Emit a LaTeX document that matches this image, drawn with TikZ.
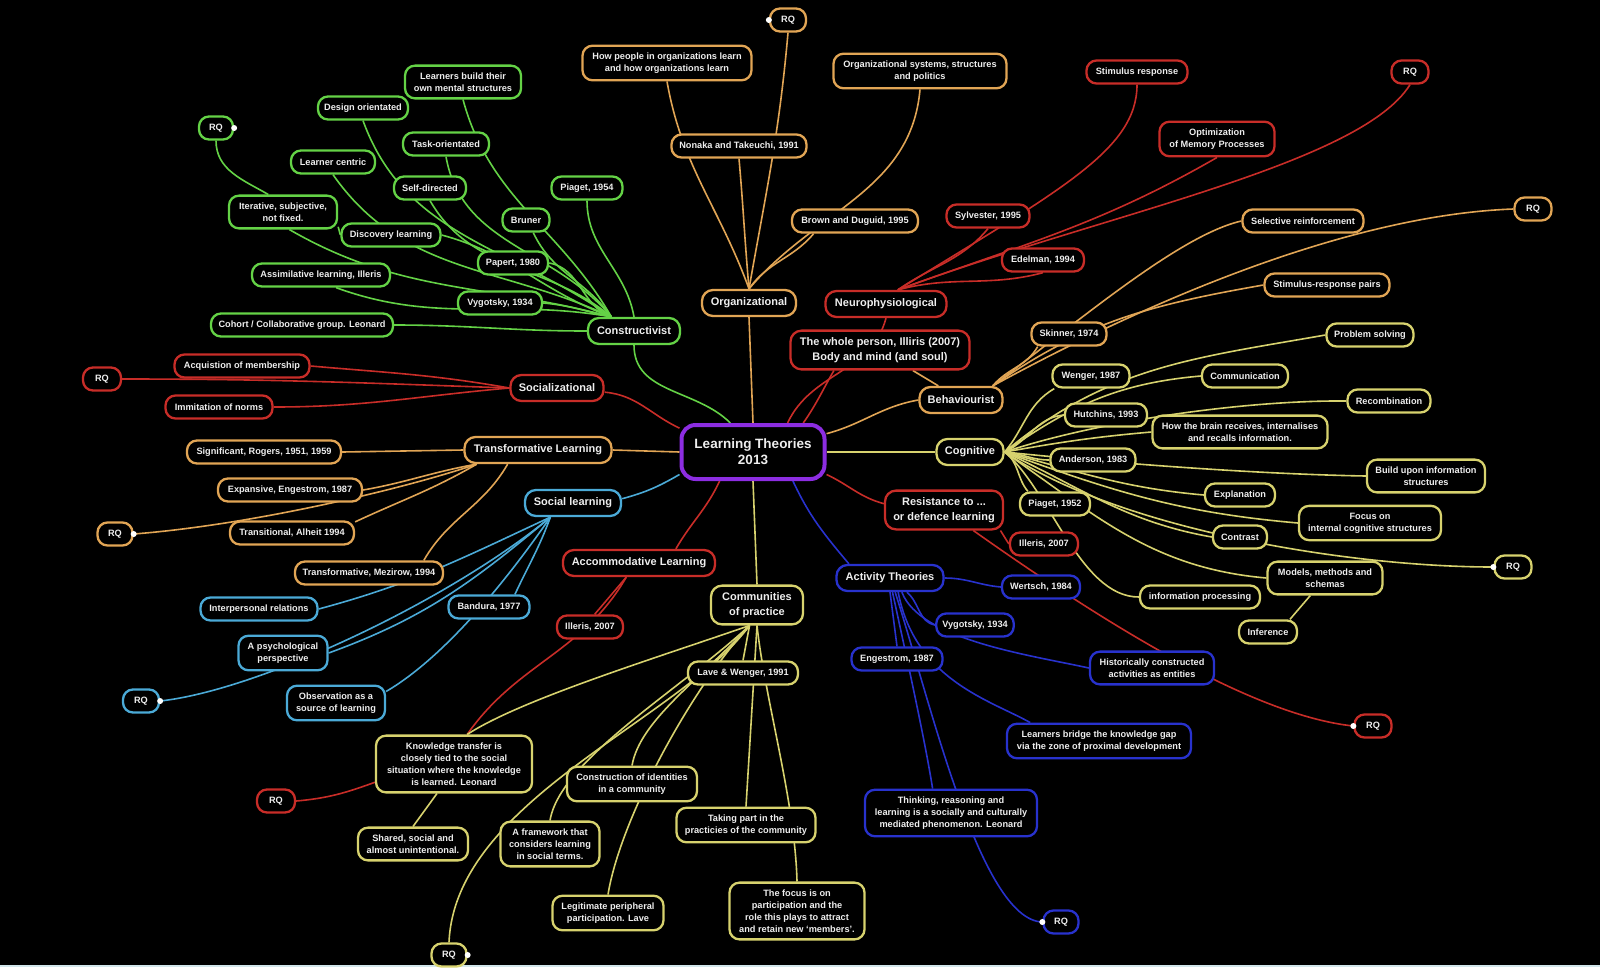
\documentclass[tikz,border=0pt]{standalone}
\usepackage{fontspec}
\setmainfont{Liberation Sans}
\definecolor{cG}{RGB}{100,210,70}
\definecolor{cO}{RGB}{225,165,85}
\definecolor{cR}{RGB}{200,45,40}
\definecolor{cB}{RGB}{75,170,215}
\definecolor{cD}{RGB}{40,50,205}
\definecolor{cY}{RGB}{215,210,110}
\definecolor{cP}{RGB}{140,45,225}
\definecolor{txt}{RGB}{238,238,238}
\definecolor{strip}{RGB}{210,230,235}
\pgfdeclarelayer{back}
\pgfdeclarelayer{lines}
\pgfsetlayers{back,lines,main}
\begin{document}
\begin{tikzpicture}[x=1pt,y=1pt,
  box/.style={draw, fill=black, line width=2.3pt, rounded corners=10pt, text=txt,
    font=\bfseries\fontsize{9.2}{12}\selectfont, align=center, inner xsep=6pt, inner ysep=7pt, minimum height=23pt},
  big/.style={box, font=\bfseries\fontsize{11}{14.5}\selectfont, minimum height=26pt, rounded corners=11pt},
  gb/.style={draw=cG}, ob/.style={draw=cO}, rb/.style={draw=cR}, bb/.style={draw=cB},
  db/.style={draw=cD}, yb/.style={draw=cY},
  wire/.style={line width=1.6pt},
  lG/.style={wire, draw=cG}, lO/.style={wire, draw=cO}, lR/.style={wire, draw=cR},
  lB/.style={wire, draw=cB}, lD/.style={wire, draw=cD}, lY/.style={wire, draw=cY},
  dot/.style={fill=white}
]
\useasboundingbox (0,0) rectangle (1600,-967);
\begin{pgfonlayer}{back}
\fill[black] (0,0) rectangle (1600,-967);
\fill[strip] (0,-965) rectangle (1600,-967);
\end{pgfonlayer}

% centre
\node[draw=cP, fill=black, line width=4pt, rounded corners=14pt, text=txt,
  font=\bfseries\fontsize{13.5}{16}\selectfont, align=center,
  minimum width=143pt, minimum height=54pt] (ctr) at (753,-452) {Learning Theories\\2013};

% green
\node[box,gb,minimum width=116pt] (gLB) at (463,-82) {Learners build their\\own mental structures};
\node[box,gb,minimum width=90pt] (gDO) at (363,-108) {Design orientated};
\node[box,gb,minimum width=34pt] (gRQ) at (216,-128) {RQ};
\node[box,gb,minimum width=86pt] (gTK) at (446,-144) {Task-orientated};
\node[box,gb,minimum width=84pt] (gLC) at (333,-162) {Learner centric};
\node[box,gb,minimum width=72pt] (gSD) at (430,-188) {Self-directed};
\node[box,gb,minimum width=71pt] (gPI) at (587,-188) {Piaget, 1954};
\node[box,gb,minimum width=108pt] (gIT) at (283,-212) {Iterative, subjective,\\not fixed.};
\node[box,gb,minimum width=47pt] (gBR) at (526,-220) {Bruner};
\node[box,gb,minimum width=99pt] (gDI) at (391,-235) {Discovery learning};
\node[box,gb,minimum width=70pt] (gPA) at (513,-263) {Papert, 1980};
\node[box,gb,minimum width=138pt] (gAS) at (321,-275) {Assimilative learning, Illeris};
\node[box,gb,minimum width=84pt] (gVY) at (500,-303) {Vygotsky, 1934};
\node[box,gb,minimum width=182pt] (gCO) at (302,-325) {Cohort / Collaborative group. Leonard};
\node[big,gb,minimum width=92pt] (gCON) at (634,-331) {Constructivist};

% orange
\node[box,ob,minimum width=36pt] (oRQT) at (788,-20) {RQ};
\node[box,ob,minimum width=169pt] (oHP) at (667,-63) {How people in organizations learn\\and how organizations learn};
\node[box,ob,minimum width=173pt] (oOS) at (920,-71) {Organizational systems, structures\\and politics};
\node[box,ob,minimum width=135pt] (oNT) at (739,-146) {Nonaka and Takeuchi, 1991};
\node[box,ob,minimum width=126pt] (oBD) at (855,-221) {Brown and Duguid, 1995};
\node[big,ob,minimum width=94pt] (oORG) at (749,-303) {Organizational};
\node[box,ob,minimum width=121pt] (oSR) at (1303,-221) {Selective reinforcement};
\node[box,ob,minimum width=37pt] (oRQR) at (1533,-209) {RQ};
\node[box,ob,minimum width=125pt] (oSRP) at (1327,-285) {Stimulus-response pairs};
\node[box,ob,minimum width=75pt] (oSK) at (1069,-334) {Skinner, 1974};
\node[big,ob,minimum width=83pt] (oBEH) at (961,-400) {Behaviourist};
\node[big,ob,minimum width=147pt] (oTL) at (538,-450) {Transformative Learning};
\node[box,ob,minimum width=154pt] (oSIG) at (264,-452) {Significant, Rogers, 1951, 1959};
\node[box,ob,minimum width=144pt] (oEXP) at (290,-490) {Expansive, Engestrom, 1987};
\node[box,ob,minimum width=35pt] (oRQL) at (115,-534) {RQ};
\node[box,ob,minimum width=124pt] (oTRA) at (292,-533) {Transitional, Alheit 1994};
\node[box,ob,minimum width=148pt] (oMEZ) at (369,-573) {Transformative, Mezirow, 1994};

% red
\node[box,rb,minimum width=101pt] (rSTI) at (1137,-72) {Stimulus response};
\node[box,rb,minimum width=37pt] (rRQT) at (1410,-72) {RQ};
\node[box,rb,minimum width=115pt] (rOPT) at (1217,-139) {Optimization\\of Memory Processes};
\node[box,rb,minimum width=83pt] (rSYL) at (988,-216) {Sylvester, 1995};
\node[box,rb,minimum width=82pt] (rEDE) at (1043,-260) {Edelman, 1994};
\node[big,rb,minimum width=121pt] (rNEU) at (886,-304) {Neurophysiological};
\node[big,rb,minimum width=179pt] (rWHO) at (880,-350) {The whole person, Illiris (2007)\\Body and mind (and soul)};
\node[box,rb,minimum width=135pt] (rACQ) at (242,-366) {Acquistion of membership};
\node[box,rb,minimum width=38pt] (rRQL) at (102,-379) {RQ};
\node[big,rb,minimum width=93pt] (rSOC) at (557,-388) {Socializational};
\node[box,rb,minimum width=107pt] (rIMM) at (219,-407) {Immitation of norms};
\node[big,rb,minimum width=118pt] (rRES) at (944,-510) {Resistance to ...\\or defence learning};
\node[box,rb,minimum width=68pt] (rIL2) at (1044,-544) {Illeris, 2007};
\node[big,rb,minimum width=152pt] (rACC) at (639,-563) {Accommodative Learning};
\node[box,rb,minimum width=66pt] (rIL1) at (590,-627) {Illeris, 2007};
\node[box,rb,minimum width=38pt] (rRQB) at (276,-801) {RQ};
\node[box,rb,minimum width=37pt] (rRQBR) at (1373,-726) {RQ};

% light blue
\node[big,bb,minimum width=96pt] (bSL) at (573,-503) {Social learning};
\node[box,bb,minimum width=117pt] (bIP) at (259,-609) {Interpersonal relations};
\node[box,bb,minimum width=81pt] (bBA) at (489,-607) {Bandura, 1977};
\node[box,bb,minimum width=89pt] (bPS) at (283,-653) {A psychological\\perspective};
\node[box,bb,minimum width=36pt] (bRQ) at (141,-701) {RQ};
\node[box,bb,minimum width=98pt] (bOB) at (336,-703) {Observation as a\\source of learning};

% dark blue
\node[big,db,minimum width=107pt] (dACT) at (890,-578) {Activity Theories};
\node[box,db,minimum width=78pt] (dWER) at (1041,-587) {Wertsch, 1984};
\node[box,db,minimum width=76pt] (dVY) at (975,-625) {Vygotsky, 1934};
\node[box,db,minimum width=91pt] (dENG) at (897,-659) {Engestrom, 1987};
\node[box,db,minimum width=124pt] (dHIS) at (1152,-668) {Historically constructed\\activities as entities};
\node[box,db,minimum width=184pt] (dLB) at (1099,-741) {Learners bridge the knowledge gap\\via the zone of proximal development};
\node[box,db,minimum width=172pt] (dTHI) at (951,-813) {Thinking, reasoning and\\learning is a socially and culturally\\mediated phenomenon. Leonard};
\node[box,db,minimum width=35pt] (dRQ) at (1061,-922) {RQ};

% yellow
\node[big,yb,minimum width=67pt] (yCOG) at (970,-452) {Cognitive};
\node[box,yb,minimum width=77pt] (yWEN) at (1091,-376) {Wenger, 1987};
\node[box,yb,minimum width=87pt] (yPS) at (1370,-335) {Problem solving};
\node[box,yb,minimum width=86pt] (yCOM) at (1245,-376) {Communication};
\node[box,yb,minimum width=83pt] (yREC) at (1389,-401) {Recombination};
\node[box,yb,minimum width=82pt] (yHUT) at (1106,-415) {Hutchins, 1993};
\node[box,yb,minimum width=175pt] (yHB) at (1240,-432) {How the brain receives, internalises\\and recalls information.};
\node[box,yb,minimum width=85pt] (yAND) at (1093,-460) {Anderson, 1983};
\node[box,yb,minimum width=118pt] (yBUI) at (1426,-476) {Build upon information\\structures};
\node[box,yb,minimum width=70pt] (yEXP) at (1240,-495) {Explanation};
\node[box,yb,minimum width=70pt] (yPIA) at (1055,-504) {Piaget, 1952};
\node[box,yb,minimum width=142pt] (yFOC) at (1370,-523) {Focus on\\internal cognitive structures};
\node[box,yb,minimum width=54pt] (yCON) at (1240,-537) {Contrast};
\node[box,yb,minimum width=37pt] (yRQ) at (1513,-567) {RQ};
\node[box,yb,minimum width=115pt] (yMOD) at (1325,-578) {Models, methods and\\schemas};
\node[box,yb,minimum width=58pt] (yINF) at (1268,-632) {Inference};
\node[box,yb,minimum width=120pt] (yIP) at (1200,-597) {information processing};
\node[big,yb,minimum width=92pt] (yCOP) at (757,-605) {Communities\\of practice};
\node[box,yb,minimum width=110pt] (yLW) at (743,-673) {Lave \& Wenger, 1991};
\node[box,yb,minimum width=156pt] (yKT) at (454,-764) {Knowledge transfer is\\closely tied to the social\\situation where the knowledge\\is learned. Leonard};
\node[box,yb,minimum width=130pt] (yCI) at (632,-784) {Construction of identities\\in a community};
\node[box,yb,minimum width=99pt] (yFW) at (550,-844) {A framework that\\considers learning\\in social terms.};
\node[box,yb,minimum width=139pt] (yTP) at (746,-825) {Taking part in the\\practicies of the community};
\node[box,yb,minimum width=110pt] (ySH) at (413,-844) {Shared, social and\\almost unintentional.};
\node[box,yb,minimum width=111pt] (yLPP) at (608,-913) {Legitimate peripheral\\participation. Lave};
\node[box,yb,minimum width=135pt] (yFOCB) at (797,-911) {The focus is on\\participation and the\\role this plays to attract\\and retain new ‘members’.};
\node[box,yb,minimum width=35pt] (yRQB) at (449,-955) {RQ};

% RQ dots
\fill[dot] (gRQ.east) circle (3pt);
\fill[dot] (oRQT.west) circle (3pt);
\fill[dot] (oRQL.east) circle (3pt);
\fill[dot] (bRQ.east) circle (3pt);
\fill[dot] (yRQB.east) circle (3pt);
\fill[dot] (dRQ.west) circle (3pt);
\fill[dot] (rRQBR.west) circle (3pt);
\fill[dot] (yRQ.west) circle (3pt);

\begin{pgfonlayer}{lines}
% constructivist
\draw[lG] (gCON.south) to[out=-90,in=135] (ctr.128);
\draw[lG] (gCON.148) to[out=120,in=-75] (gLB.south);
\draw[lG] (gCON.148) to[out=130,in=-80] (gTK.south);
\draw[lG] (gCON.148) to[out=140,in=-60] (gSD.south);
\draw[lG] (gCON.148) to[out=145,in=-70] (gDO.south);
\draw[lG] (gCON.148) to[out=155,in=-55] (gLC.south);
\draw[lG] (gCON.148) to[out=160,in=-15] (gDI.east);
\draw[lG] (gCON.148) to[out=165,in=-30] (gIT.-70);
\draw[lG] (gCON.148) to[out=170,in=-20] (gAS.-40);
\draw[lG] (gCON.148) to[out=160,in=-10] (gPA.east);
\draw[lG] (gCON.148) to[out=168,in=-5] (gVY.east);
\draw[lG] (gCON.148) to[out=125,in=-65] (gBR.-60);
\draw[lG] (gCON.north) to[out=100,in=-90] (gPI.south);
\draw[lG] (gCON.west) to[out=180,in=0] (gCO.east);
\draw[lG] (gIT.130) to[out=150,in=-90] (gRQ.south);
\draw[lG] (gIT.-15) -- (gDI.west);
% organizational
\draw[lO] (ctr.north) -- (oORG.south);
\draw[lO] (oORG.north) to[out=95,in=-85] (oNT.south);
\draw[lO] (oORG.north) to[out=110,in=-80] (oHP.south);
\draw[lO] (oORG.north) to[out=80,in=-95] (oRQT.south);
\draw[lO] (oORG.north) to[out=55,in=-130] (oBD.-163);
\draw[lO] (oORG.north) to[out=50,in=-95] (oOS.south);
% neurophysiological
\draw[lR] (ctr.40) to[out=65,in=-105] (rNEU.south);
\draw[lR] (ctr.30) to[out=55,in=-120] (rWHO.-156);
\draw[lR] (rNEU.50) to[out=35,in=-130] (rSYL.south);
\draw[lR] (rNEU.50) .. controls (1060,-190) and (1137,-150) .. (rSTI.south);
\draw[lR] (rNEU.50) to[out=15,in=-165] (rEDE.south);
\draw[lR] (rNEU.50) to[out=20,in=-150] (rOPT.south);
\draw[lR] (rNEU.50) .. controls (1100,-215) and (1360,-165) .. (rRQT.south);
% behaviourist
\draw[lO] (ctr.14) to[out=15,in=190] (oBEH.west);
\draw[lO] (oBEH.24) to[out=50,in=-120] (oSK.-158);
\draw[lO] (oBEH.24) .. controls (1080,-320) and (1180,-235) .. (oSR.west);
\draw[lO] (oBEH.24) .. controls (1150,-300) and (1350,-215) .. (oRQR.west);
\draw[lO] (oBEH.24) to[out=35,in=190] (oSRP.west);
\draw[lO] (oBEH.148) -- (rWHO.-32);
% cognitive
\draw[lY] (ctr.east) -- (yCOG.west);
\draw[lY] (yCOG.east) to[out=50,in=-150] (yWEN.-161);
\draw[lY] (yCOG.east) to[out=40,in=190] (yPS.west);
\draw[lY] (yCOG.east) to[out=35,in=185] (yCOM.west);
\draw[lY] (yCOG.east) to[out=25,in=185] (yHUT.west);
\draw[lY] (yCOG.east) .. controls (1100,-420) and (1250,-400) .. (yREC.west);
\draw[lY] (yCOG.east) to[out=10,in=185] (yHB.west);
\draw[lY] (yCOG.east) to[out=-5,in=180] (yAND.west);
\draw[lY] (yCOG.east) .. controls (1100,-462) and (1250,-474) .. (yBUI.west);
\draw[lY] (yCOG.east) to[out=-15,in=175] (yEXP.west);
\draw[lY] (yCOG.east) to[out=-35,in=130] (yPIA.155);
\draw[lY] (yCOG.east) to[out=-20,in=175] (yFOC.west);
\draw[lY] (yCOG.east) to[out=-25,in=170] (yCON.west);
\draw[lY] (yCOG.east) .. controls (1120,-530) and (1350,-567) .. (yRQ.west);
\draw[lY] (yCOG.east) to[out=-35,in=175] (yMOD.west);
\draw[lY] (yCOG.east) .. controls (1050,-490) and (1080,-597) .. (yIP.west);
\draw[lY] (yMOD.-130) -- (yINF.30);
% resistance
\draw[lR] (ctr.-17) to[out=-25,in=165] (rRES.174);
\draw[lR] (rRES.-20) -- (rIL2.west);
\draw[lR] (rRES.-35) .. controls (1100,-620) and (1250,-715) .. (rRQBR.west);
% activity
\draw[lD] (ctr.-36) to[out=-65,in=130] (dACT.161);
\draw[lD] (dACT.east) to[out=0,in=175] (dWER.west);
\draw[lD] (dACT.-40) to[out=-40,in=170] (dVY.west);
\draw[lD] (dACT.-50) .. controls (920,-640) and (1030,-655) .. (dHIS.west);
\draw[lD] (dACT.-60) .. controls (915,-680) and (990,-700) .. (dLB.165);
\draw[lD] (dACT.-90) -- (dENG.north);
\draw[lD] (dACT.-80) .. controls (905,-650) and (925,-740) .. (dTHI.127);
\draw[lD] (dACT.-70) .. controls (930,-700) and (980,-920) .. (dRQ.west);
% social learning
\draw[lB] (ctr.-163) to[out=-150,in=15] (bSL.5);
\draw[lB] (bSL.-148) to[out=-155,in=15] (bIP.east);
\draw[lB] (bSL.-148) to[out=-140,in=20] (bPS.east);
\draw[lB] (bSL.-148) .. controls (450,-600) and (260,-690) .. (bRQ.east);
\draw[lB] (bSL.-148) to[out=-110,in=65] (bBA.26);
\draw[lB] (bSL.-148) .. controls (500,-590) and (440,-660) .. (bOB.13);
% transformative
\draw[lO] (ctr.west) -- (oTL.east);
\draw[lO] (oTL.west) -- (oSIG.east);
\draw[lO] (oTL.-167) to[out=-170,in=10] (oEXP.east);
\draw[lO] (oTL.-167) to[out=-150,in=25] (oTRA.10);
\draw[lO] (oTL.-167) .. controls (400,-490) and (250,-525) .. (oRQL.east);
\draw[lO] (oTL.-155) to[out=-120,in=60] (oMEZ.13);
% socializational
\draw[lR] (rSOC.-5) to[out=-5,in=155] (ctr.162);
\draw[lR] (rSOC.west) to[out=170,in=-5] (rACQ.east);
\draw[lR] (rSOC.west) to[out=178,in=0] (rRQL.east);
\draw[lR] (rSOC.west) to[out=-175,in=0] (rIMM.east);
% accommodative
\draw[lR] (rACC.21) to[out=60,in=-115] (ctr.-139);
\draw[lR] (rACC.-132) -- (rIL1.70);
\draw[lR] (rACC.-132) to[out=-120,in=55] (yKT.66);
\draw[lR] (yKT.-167) to[out=-160,in=5] (rRQB.east);
% communities
\draw[lY] (ctr.south) -- (yCOP.north);
\draw[lY] (yCOP.-110) -- (yLW.north);
\draw[lY] (yCOP.-110) .. controls (650,-660) and (520,-700) .. (yKT.66);
\draw[lY] (yCOP.-110) .. controls (680,-720) and (455,-800) .. (yRQB.north);
\draw[lY] (yCOP.-110) .. controls (680,-690) and (560,-760) .. (yFW.north);
\draw[lY] (yCOP.-110) .. controls (700,-680) and (640,-720) .. (yCI.north);
\draw[lY] (yCOP.-110) .. controls (690,-690) and (620,-820) .. (yLPP.north);
\draw[lY] (yCOP.south) -- (yTP.north);
\draw[lY] (yCOP.south) .. controls (765,-700) and (795,-800) .. (yFOCB.north);
\draw[lY] (yKT.-120) -- (ySH.north);
\end{pgfonlayer}
\end{tikzpicture}
\end{document}
